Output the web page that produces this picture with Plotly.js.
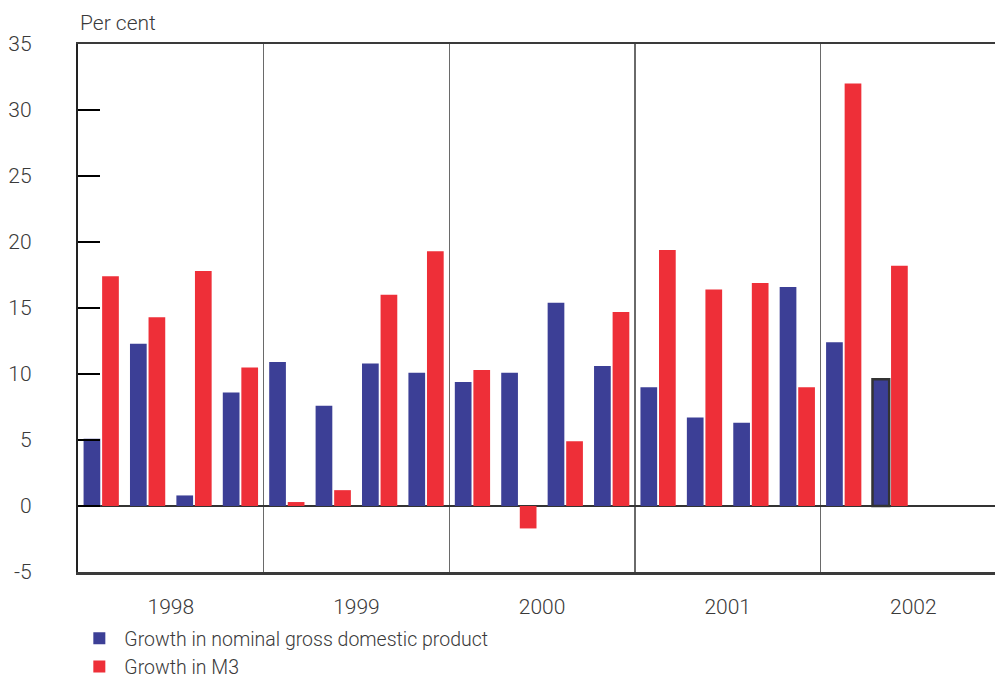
<!DOCTYPE html>
<html>
<head>
<meta charset="utf-8">
<script src="https://cdn.plot.ly/plotly-3.0.1.min.js"></script>
<style>
html,body{margin:0;padding:0;background:#fff;overflow:hidden;}
#chart{width:995px;height:679px;}
</style>
</head>
<body>
<div id="chart"></div>
<script>
// Quarterly data 1998Q1 .. 2002Q2 (per cent)
const quarters = ["1998Q1","1998Q2","1998Q3","1998Q4","1999Q1","1999Q2","1999Q3","1999Q4",
                  "2000Q1","2000Q2","2000Q3","2000Q4","2001Q1","2001Q2","2001Q3","2001Q4",
                  "2002Q1","2002Q2"];
const gdpGrowth = [5.1, 12.3, 0.8, 8.6, 10.9, 7.6, 10.8, 10.1, 9.4, 10.1, 15.4, 10.6, 9.0, 6.7, 6.3, 16.6, 12.4, 9.6];
const m3Growth  = [17.4, 14.3, 17.8, 10.5, 0.3, 1.2, 16.0, 19.3, 10.3, -1.7, 4.9, 14.7, 19.4, 16.4, 16.9, 9.0, 32.0, 18.2];
const years = ["1998","1999","2000","2001","2002"];
const yTicks = [-5, 0, 5, 10, 15, 20, 25, 30, 35];
const seriesNames = ["Growth in nominal gross domestic product", "Growth in M3"];

const xIdx = quarters.map((q, i) => i);
const yearCenters = years.map((y, i) => i * 4 + 1.5);
// last GDP observation outlined
const gdpLineW = gdpGrowth.map((v, i) => i === gdpGrowth.length - 1 ? 2.5 : 0);

const FONT = "Roboto, 'Liberation Sans', sans-serif";
const TXT = "#3a3a3a";

const traces = [
  {type: "bar", x: xIdx, y: gdpGrowth, name: seriesNames[0],
   marker: {color: "#3c3f96", line: {color: "#333333", width: gdpLineW}}},
  {type: "bar", x: xIdx, y: m3Growth, name: seriesNames[1],
   marker: {color: "#ee2f38", line: {width: 0}}}
];

const layout = {
  width: 995, height: 679,
  margin: {l: 78, r: 0, t: 44, b: 107, pad: 0, autoexpand: false},
  paper_bgcolor: "#fff", plot_bgcolor: "#fff",
  font: {family: FONT, color: TXT, size: 20, weight: 300},
  barmode: "group", bargap: 0.2, bargroupgap: 0.1,
  showlegend: true,
  legend: {orientation: "v", x: -0.004, xanchor: "left", y: -0.089, yanchor: "top",
           font: {family: FONT, size: 19.5, color: TXT, weight: 300},
           itemwidth: 40, tracegroupgap: 0, bgcolor: "rgba(0,0,0,0)"},
  xaxis: {
    range: [-0.5, 19.26], fixedrange: true,
    tickmode: "array", tickvals: yearCenters, ticktext: years,
    ticks: "", showgrid: false, zeroline: false,
    showline: true, mirror: true, linecolor: "#3a3a3a", linewidth: 2.5,
    tickfont: {family: FONT, size: 21, color: TXT, weight: 300},
    ticklabelstandoff: 14,
    minor: {tick0: 3.5, dtick: 4, showgrid: true, gridcolor: "#6a6a6a", gridwidth: 1.5, ticks: ""}
  },
  yaxis: {
    range: [-5, 35], fixedrange: true,
    tickmode: "array", tickvals: yTicks, ticktext: yTicks.map(String),
    ticks: "inside", ticklen: 22, tickwidth: 2.2, tickcolor: "#000",
    showgrid: false,
    zeroline: true, zerolinecolor: "#333", zerolinewidth: 1.8,
    showline: true, linecolor: "#222", linewidth: 2.2,
    tickfont: {family: FONT, size: 21, color: TXT, weight: 300},
    ticklabelstandoff: 40
  },
  annotations: [
    {text: "Per cent", xref: "paper", yref: "paper", x: 0, y: 1, xanchor: "left", yanchor: "bottom",
     yshift: 7, showarrow: false, font: {family: FONT, size: 21, color: TXT, weight: 300}}
  ]
};

Plotly.newPlot("chart", traces, layout, {displayModeBar: false, staticPlot: true});
</script>
</body>
</html>
